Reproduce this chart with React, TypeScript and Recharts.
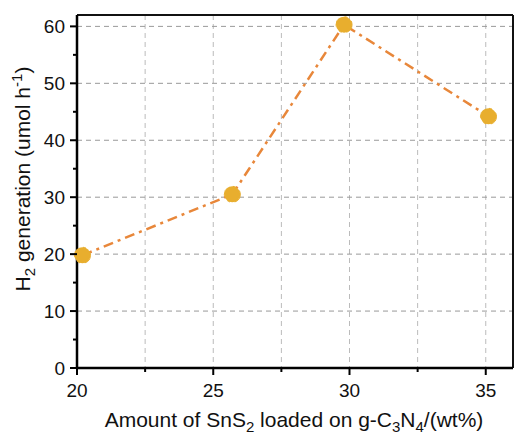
import {
  CartesianGrid,
  Customized,
  Line,
  LineChart,
  ReferenceLine,
  XAxis,
  YAxis,
} from "recharts"

const loading = [20.2, 25.7, 29.8, 35.1]
const h2Rate = [19.8, 30.5, 60.3, 44.2]
const xTicks = [20, 22.5, 25, 27.5, 30, 32.5, 35]
const xLabelled = [20, 25, 30, 35]
const yTicks = [0, 5, 10, 15, 20, 25, 30, 35, 40, 45, 50, 55, 60]
const yLabelled = [0, 10, 20, 30, 40, 50, 60]
const yGrid = [10, 20, 30, 40, 50, 60]

const data = loading.map((x, i) => ({ x, y: h2Rate[i] }))

const font = "'Liberation Sans', Arial, sans-serif"
const W = 515
const H = 434
const M = { top: 15, right: 2, left: 0, bottom: 0 }
const Y_W = 77
const X_H = 66

function XTick({ x, y, payload }: any) {
  const major = xLabelled.includes(payload.value)
  return (
    <g>
      <line x1={x} x2={x} y1={y} y2={y + (major ? 7 : 4)} stroke="#000" strokeWidth={2} />
      {major && (
        <text x={x} y={y + 29} textAnchor="middle" fontSize={19} fontFamily={font} fill="#111">
          {payload.value}
        </text>
      )}
    </g>
  )
}

function YTick({ x, y, payload }: any) {
  const major = yLabelled.includes(payload.value)
  return (
    <g>
      <line x1={x - (major ? 7 : 4)} x2={x} y1={y} y2={y} stroke="#000" strokeWidth={2} />
      {major && (
        <text x={x - 12} y={y + 7} textAnchor="end" fontSize={19} fontFamily={font} fill="#111">
          {payload.value}
        </text>
      )}
    </g>
  )
}

function Labels() {
  const left = M.left + Y_W
  const width = W - left - M.right
  return (
    <g>
      <text
        transform="translate(30, 179) rotate(-90)"
        textAnchor="middle"
        fontSize={21}
        fontFamily={font}
        fill="#111"
      >
        H<tspan fontSize={15} dy={5}>2</tspan>
        <tspan dy={-5}> generation (umol h</tspan>
        <tspan fontSize={15} dy={-8}>-1</tspan>
        <tspan dy={8}>)</tspan>
      </text>
      <text x={left + width / 2 - 1} y={427} textAnchor="middle" fontSize={21} fontFamily={font} fill="#111">
        Amount of SnS<tspan fontSize={15} dy={5}>2</tspan>
        <tspan dy={-5}> loaded on g-C</tspan>
        <tspan fontSize={15} dy={5}>3</tspan>
        <tspan dy={-5}>N</tspan>
        <tspan fontSize={15} dy={5}>4</tspan>
        <tspan dy={-5}>/(wt%)</tspan>
      </text>
    </g>
  )
}

export default function App() {
  return (
    <div style={{ position: "absolute", left: 0, top: 0, background: "#fff" }}>
      <LineChart width={W} height={H} data={data} margin={M}>
        <CartesianGrid horizontal={false} stroke="#bbb" strokeDasharray="5 4" />
        {yGrid.map((v) => (
          <ReferenceLine key={v} y={v} stroke="#999" strokeDasharray="5 4" />
        ))}
        <ReferenceLine y={62} stroke="#111" strokeWidth={2} />
        <ReferenceLine x={36} stroke="#111" strokeWidth={2} />
        <XAxis
          dataKey="x"
          type="number"
          domain={[20, 36]}
          ticks={xTicks}
          interval={0}
          tick={<XTick />}
          tickLine={false}
          tickSize={0}
          tickMargin={0}
          height={X_H}
          axisLine={{ stroke: "#000", strokeWidth: 2.5 }}
        />
        <YAxis
          type="number"
          domain={[0, 62]}
          ticks={yTicks}
          interval={0}
          tick={<YTick />}
          tickLine={false}
          tickSize={0}
          tickMargin={0}
          width={Y_W}
          axisLine={{ stroke: "#000", strokeWidth: 2.5 }}
        />
        <Customized component={Labels} />
        <Line
          dataKey="y"
          type="linear"
          stroke="#E8873A"
          strokeWidth={2.5}
          strokeDasharray="10 5 3 5"
          dot={{ r: 8, fill: "#E8AE2E", stroke: "#E8AE2E", strokeWidth: 1 }}
          isAnimationActive={false}
        />
      </LineChart>
    </div>
  )
}
